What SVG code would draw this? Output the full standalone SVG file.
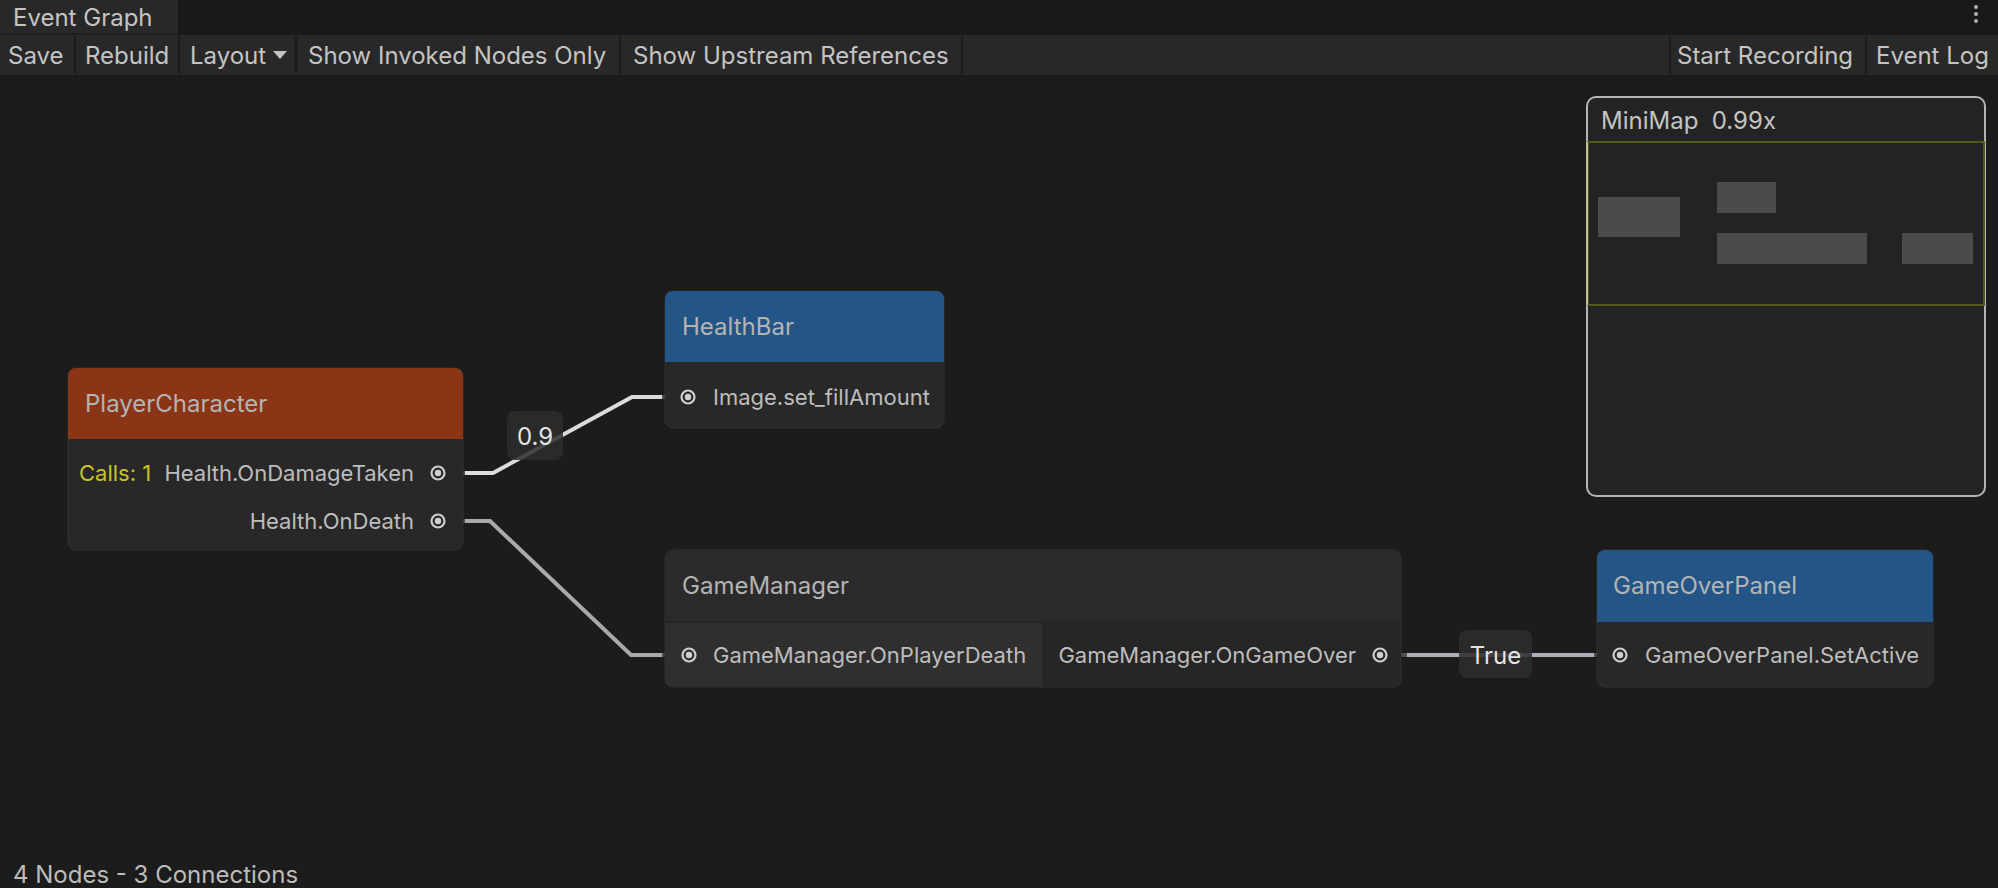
<svg xmlns="http://www.w3.org/2000/svg" width="1998" height="888" viewBox="0 0 1998 888">
<style>
text{font-family:Inter,"Noto Sans","Liberation Sans",sans-serif;}
.tb{font-size:24px;fill:#c4c4c4;}
.sep{stroke:#1b1b1b;stroke-width:2;}
.title{font-size:24px;fill:#b4b4b4;}
.row{font-size:22px;fill:#bdbdbd;}
.body{fill:#282828;stroke:#303030;stroke-width:1;}
.port{fill:none;stroke:#cfcfcf;stroke-width:2.2;}
.dot{fill:#cfcfcf;}
.stub{stroke:#4e4e4e;stroke-width:4;fill:none;}
.lbl{fill:#2d2d2d;opacity:0.85;}
.lbltxt{font-size:24px;fill:#e4e4e4;text-anchor:middle;}
.mm{fill:#4b4b4b;}
</style>
<rect width="1998" height="888" fill="#1c1c1c"/>
<g id="tabbar">
<rect x="0" y="0" width="1998" height="34" fill="#191919"/>
<rect x="0" y="0" width="178" height="34" fill="#282828"/>
<text x="13" y="26" class="tb">Event Graph</text>
<circle cx="1976" cy="7" r="2" fill="#b0b0b0"/>
<circle cx="1976" cy="14" r="2" fill="#b0b0b0"/>
<circle cx="1976" cy="21" r="2" fill="#b0b0b0"/>
</g>
<g id="toolbar">
<rect x="0" y="34" width="1998" height="41" fill="#282828"/>
<line x1="0" y1="34" x2="1998" y2="34" stroke="#151515" stroke-width="1"/>
<text x="8" y="64" class="tb">Save</text>
<line x1="75" y1="36" x2="75" y2="74" class="sep"/>
<text x="85" y="64" class="tb">Rebuild</text>
<line x1="179" y1="36" x2="179" y2="74" class="sep"/>
<text x="190" y="64" class="tb">Layout</text>
<polygon points="273,51 287,51 280,59" fill="#c4c4c4"/>
<line x1="296" y1="36" x2="296" y2="74" class="sep"/>
<text x="308" y="64" class="tb">Show Invoked Nodes Only</text>
<line x1="620" y1="36" x2="620" y2="74" class="sep"/>
<text x="633" y="64" class="tb">Show Upstream References</text>
<line x1="962" y1="36" x2="962" y2="74" class="sep"/>
<line x1="1670" y1="36" x2="1670" y2="74" class="sep"/>
<text x="1677" y="64" class="tb">Start Recording</text>
<line x1="1866" y1="36" x2="1866" y2="74" class="sep"/>
<text x="1876" y="64" class="tb">Event Log</text>
</g>
<g id="connectors">
<path d="M465,473 H493 L632,397 H662" fill="none" stroke="#dcdcdc" stroke-width="4"/>
<path d="M465,521 H490 L631,655 H662" fill="none" stroke="#a9a9a9" stroke-width="4"/>
<path d="M1401,655 H1597" fill="none" stroke="#aeaebc" stroke-width="4"/>
<path d="M446,473 H465 M446,521 H465 M662,397 H681 M662,655 H682 M1388,655 H1407 M1594,655 H1613" class="stub"/>
<g id="label-09">
<rect x="507" y="411" width="56" height="49" rx="8" class="lbl"/>
<text x="535" y="445" class="lbltxt">0.9</text>
</g>
<g id="label-true">
<rect x="1459" y="630" width="73" height="48" rx="8" class="lbl"/>
<text x="1495.5" y="664" class="lbltxt">True</text>
</g>
</g>
<g id="node-playercharacter">
<rect x="68" y="368" width="395" height="182" rx="8" class="body"/>
<path d="M68,439 V376 A8,8 0 0 1 76,368 H455 A8,8 0 0 1 463,376 V439 Z" fill="#8a3516"/>
<text x="85" y="412" class="title">PlayerCharacter</text>
<text x="79" y="481" class="row" style="fill:#c9c22a">Calls: 1</text>
<text x="414" y="481" class="row" text-anchor="end">Health.OnDamageTaken</text>
<circle cx="438" cy="473" r="6.5" class="port"/><circle cx="438" cy="473" r="3.2" class="dot"/>
<text x="414" y="529" class="row" text-anchor="end">Health.OnDeath</text>
<circle cx="438" cy="521" r="6.5" class="port"/><circle cx="438" cy="521" r="3.2" class="dot"/>
</g>
<g id="node-healthbar">
<rect x="665" y="291" width="279" height="137" rx="8" class="body"/>
<path d="M665,362 V299 A8,8 0 0 1 673,291 H936 A8,8 0 0 1 944,299 V362 Z" fill="#245587"/>
<text x="682" y="335" class="title">HealthBar</text>
<circle cx="688" cy="397" r="6.5" class="port"/><circle cx="688" cy="397" r="3.2" class="dot"/>
<text x="713" y="405" class="row">Image.set_fillAmount</text>
</g>
<g id="node-gamemanager">
<rect x="665" y="550" width="736" height="137" rx="8" class="body" style="fill:#262626"/>
<path d="M665,622 V558 A8,8 0 0 1 673,550 H1393 A8,8 0 0 1 1401,558 V622 Z" fill="#2b2b2b"/>
<line x1="665" y1="622" x2="1401" y2="622" stroke="#222" stroke-width="1"/>
<path d="M665,623 H1042 V687 H673 A8,8 0 0 1 665,679 Z" fill="#2f2f2f"/>
<text x="682" y="594" class="title">GameManager</text>
<circle cx="689" cy="655" r="6.5" class="port"/><circle cx="689" cy="655" r="3.2" class="dot"/>
<text x="713" y="663" class="row">GameManager.OnPlayerDeath</text>
<text x="1356" y="663" class="row" text-anchor="end">GameManager.OnGameOver</text>
<circle cx="1380" cy="655" r="6.5" class="port"/><circle cx="1380" cy="655" r="3.2" class="dot"/>
</g>
<g id="node-gameoverpanel">
<rect x="1597" y="550" width="336" height="137" rx="8" class="body"/>
<path d="M1597,622 V558 A8,8 0 0 1 1605,550 H1925 A8,8 0 0 1 1933,558 V622 Z" fill="#245587"/>
<text x="1613" y="594" class="title">GameOverPanel</text>
<circle cx="1620" cy="655" r="6.5" class="port"/><circle cx="1620" cy="655" r="3.2" class="dot"/>
<text x="1645" y="663" class="row">GameOverPanel.SetActive</text>
</g>
<g id="minimap">
<rect x="1587" y="97" width="398" height="399" rx="9" fill="#232323" stroke="#b4b4b4" stroke-width="2"/>
<text x="1601" y="129" class="title" style="fill:#c4c4c4" xml:space="preserve">MiniMap  0.99x</text>
<rect x="1588" y="142" width="396" height="163" fill="none" stroke="#56561f" stroke-width="2"/>
<line x1="1587" y1="142" x2="1587" y2="305" stroke="#c0c08a" stroke-width="2"/>
<rect x="1598" y="197" width="82" height="40" class="mm"/>
<rect x="1717" y="182" width="59" height="31" class="mm"/>
<rect x="1717" y="233" width="150" height="31" class="mm"/>
<rect x="1902" y="233" width="71" height="31" class="mm"/>
</g>
<g id="status">
<text x="13" y="883" class="tb" style="fill:#bcbcbc">4 Nodes - 3 Connections</text>
</g>
</svg>
